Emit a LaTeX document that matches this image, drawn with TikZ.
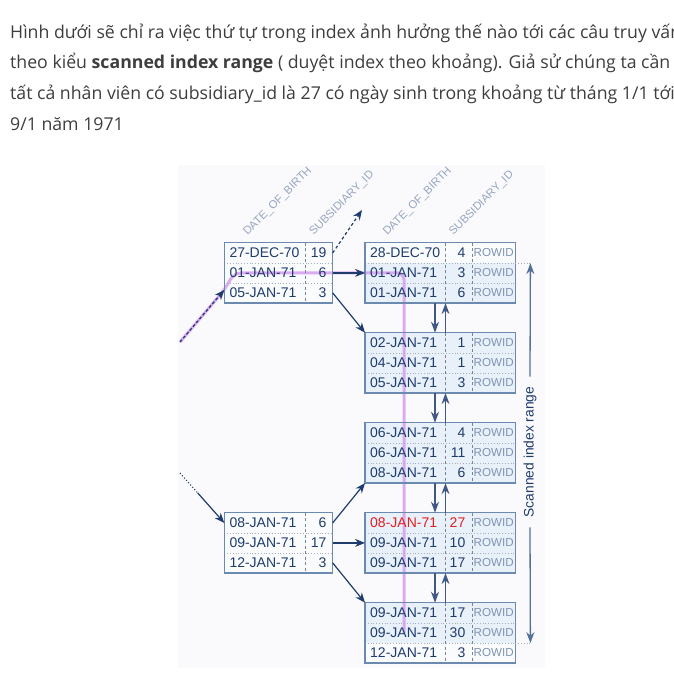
\documentclass[tikz,border=0pt]{standalone}
\usepackage{fontspec}
\usepackage{xcolor}
\usepackage{tikz}
\usetikzlibrary{arrows.meta,calc}
\setmainfont{Open Sans}
\newfontfamily\parafont{Open Sans}
\newfontfamily\diagfont{Liberation Sans}
\definecolor{txtgray}{RGB}{62,62,62}
\definecolor{navy}{RGB}{30,60,108}
\definecolor{boxblue}{RGB}{108,137,175}
\definecolor{cellblue}{RGB}{232,240,249}
\definecolor{cellwhite}{RGB}{250,251,253}
\definecolor{headgray}{RGB}{150,166,193}
\definecolor{rowidgray}{RGB}{128,148,178}
\definecolor{sepgray}{RGB}{168,176,190}
\definecolor{rangeblue}{RGB}{85,112,150}
\definecolor{scanviolet}{RGB}{214,158,240}
\definecolor{hitred}{RGB}{226,30,30}
\definecolor{diagbg}{RGB}{250,250,252}
\tikzstyle{para} = [inner sep=0pt, anchor=base west, text=txtgray,
    font=\parafont\fontsize{17.7}{21}\selectfont]
\tikzstyle{leafrow} = [rectangle, minimum width=150pt, minimum height=20pt,
    inner sep=0pt, anchor=north west, fill=cellblue]
\tikzstyle{branchrow} = [rectangle, minimum width=108pt, minimum height=20pt,
    inner sep=0pt, anchor=north west, fill=cellwhite]
\tikzstyle{keytext} = [inner sep=0pt, text=navy, font=\diagfont\fontsize{14}{16}\selectfont]
\tikzstyle{rowid} = [inner sep=0pt, anchor=west, text=rowidgray,
    font=\diagfont\fontsize{11.6}{13}\selectfont]
\tikzstyle{colhead} = [inner sep=0pt, anchor=south west, rotate=45, text=headgray,
    font=\diagfont\fontsize{11.3}{13}\selectfont]
\tikzstyle{boxline} = [draw=boxblue, line width=1.5pt]
\tikzstyle{rowsep} = [draw=sepgray, dotted, line width=0.8pt]
\tikzstyle{colsep} = [draw=sepgray!75!black, dash pattern=on 3pt off 2.5pt, line width=0.9pt]
\tikzstyle{link} = [draw=navy, line width=1.2pt, -{Stealth[length=10pt,width=8pt]}]
\tikzstyle{chain} = [draw=navy!85!white, line width=1.4pt, -{Stealth[length=11pt,width=8pt]}]
\tikzstyle{rangearrow} = [draw=rangeblue, line width=1.3pt, -{Stealth[length=11pt,width=8pt]}]
\tikzstyle{scanpath} = [draw=scanviolet, line width=3pt, opacity=0.85, rounded corners=7pt]

\begin{document}
\begin{tikzpicture}[x=1pt,y=-1pt]
  \useasboundingbox (0,0) rectangle (674,673);
  \clip (0,0) rectangle (674,673);
  \fill[white] (0,0) rectangle (674,673);

  \node[para] (p1) at (10,38) {Hình dưới sẽ chỉ ra việc thứ tự trong index ảnh hưởng thế nào tới các câu truy vấn};
  \node[para] (p2) at (10,68.5) {theo kiểu \textbf{scanned index range} ( duyệt index theo khoảng). Giả sử chúng ta cần lấy};
  \node[para] (p3) at (10,99) {tất cả nhân viên có subsidiary\_id là 27 có ngày sinh trong khoảng từ tháng 1/1 tới};
  \node[para] (p4) at (10,130) {9/1 năm 1971};

  \fill[diagbg] (178,165) rectangle (545,668);

  % rows of the leaf nodes and of the branch nodes
  \foreach \n/\y in {R1/242.7,R2/332.7,R3/422.7,R4/512.7,R5/602.7}{
    \node[leafrow] (\n a) at (365,\y) {};
    \node[leafrow] (\n b) at (365,\y+20) {};
    \node[leafrow] (\n c) at (365,\y+40) {};
  }
  \foreach \n/\y in {L1/242.7,L2/512.7}{
    \node[branchrow] (\n a) at (224.3,\y) {};
    \node[branchrow] (\n b) at (224.3,\y+20) {};
    \node[branchrow] (\n c) at (224.3,\y+40) {};
  }
  \fill[cellwhite] (R1a.north west) rectangle (R1a.south east);
  \fill[cellwhite] (R5c.north west) rectangle (R5c.south east);

  \coordinate (in1) at (180,342);
  \coordinate (in2) at (180,473);
  \coordinate (out1) at (362,210);

  % the scanned path
  \draw[scanpath] (in1) -- ([yshift=3pt]L1c.west) -- ($(L1b.west)+(10,0)$)
    -- ($(R1b.west)+(39,0)$) -- ($(R5b.west)+(39,0)$);

  \foreach \n in {R1,R2,R3,R4,R5}{
    \draw[rowsep] (\n a.south west) -- (\n a.south east);
    \draw[rowsep] (\n b.south west) -- (\n b.south east);
    \draw[colsep] ($(\n a.north west)+(80.7,0)$) -- ($(\n c.south west)+(80.7,0)$);
    \draw[colsep] ($(\n a.north west)+(107.3,0)$) -- ($(\n c.south west)+(107.3,0)$);
    \draw[boxline] (\n a.north west) rectangle (\n c.south east);
  }
  \foreach \n in {L1,L2}{
    \draw[rowsep] (\n a.south west) -- (\n a.south east);
    \draw[rowsep] (\n b.south west) -- (\n b.south east);
    \draw[colsep] ($(\n a.north west)+(80.7,0)$) -- ($(\n c.south west)+(80.7,0)$);
    \draw[boxline] (\n a.north west) rectangle (\n c.south east);
  }

  \def\lrow#1#2#3{
    \node[keytext,anchor=west] (#1d) at ($(#1.west)+(5,0)$) {#2};
    \node[keytext,anchor=east] (#1n) at ($(#1.west)+(100.5,0)$) {#3};
    \node[rowid] (#1r) at ($(#1.west)+(108.5,0)$) {ROWID};
  }
  \def\brow#1#2#3{
    \node[keytext,anchor=west] (#1d) at ($(#1.west)+(5,0)$) {#2};
    \node[keytext,anchor=east] (#1n) at ($(#1.east)+(-6,0)$) {#3};
  }

  \brow{L1a}{27-DEC-70}{19}
  \brow{L1b}{01-JAN-71}{6}
  \brow{L1c}{05-JAN-71}{3}
  \brow{L2a}{08-JAN-71}{6}
  \brow{L2b}{09-JAN-71}{17}
  \brow{L2c}{12-JAN-71}{3}

  \lrow{R1a}{28-DEC-70}{4}
  \lrow{R1b}{01-JAN-71}{3}
  \lrow{R1c}{01-JAN-71}{6}
  \lrow{R2a}{02-JAN-71}{1}
  \lrow{R2b}{04-JAN-71}{1}
  \lrow{R2c}{05-JAN-71}{3}
  \lrow{R3a}{06-JAN-71}{4}
  \lrow{R3b}{06-JAN-71}{11}
  \lrow{R3c}{08-JAN-71}{6}
  \node[keytext,anchor=west,text=hitred] (R4ad) at ($(R4a.west)+(5,0)$) {08-JAN-71};
  \node[keytext,anchor=east,text=hitred] (R4an) at ($(R4a.west)+(100.5,0)$) {27};
  \node[rowid] (R4ar) at ($(R4a.west)+(108.5,0)$) {ROWID};
  \lrow{R4b}{09-JAN-71}{10}
  \lrow{R4c}{09-JAN-71}{17}
  \lrow{R5a}{09-JAN-71}{17}
  \lrow{R5b}{09-JAN-71}{30}
  \lrow{R5c}{12-JAN-71}{3}

  % column headers
  \node[colhead] (h1) at ($(L1a.north west)+(25,-5)$) {DATE\_OF\_BIRTH};
  \node[colhead] (h2) at ($(L1a.north west)+(91,-5)$) {SUBSIDIARY\_ID};
  \node[colhead] (h3) at ($(R1a.north west)+(24,-5)$) {DATE\_OF\_BIRTH};
  \node[colhead] (h4) at ($(R1a.north west)+(90,-5)$) {SUBSIDIARY\_ID};

  % branch links
  \draw[link, dash pattern=on 3pt off 2pt] (in1) -- ([yshift=3pt]L1c.west);
  \draw[link, dash pattern=on 3pt off 2.5pt] (L1a.east) -- (out1);
  \draw[link] (L1b.east) -- (R1b.west);
  \draw[link] (L1c.east) -- (R2a.north west);
  \draw[draw=navy, line width=1.1pt, dotted] (in2) -- ($(in2)!0.4!(L2a.west)$);
  \draw[link] ($(in2)!0.4!(L2a.west)$) -- (L2a.west);
  \draw[link] (L2a.east) -- (R3c.south west);
  \draw[link] (L2b.east) -- (R4b.west);
  \draw[link] (L2c.east) -- (R5a.north west);

  % leaf chain
  \foreach \u/\l in {R1/R2,R2/R3,R3/R4,R4/R5}{
    \draw[chain] ($(\u c.south west)+(70,0)$) -- ($(\l a.north west)+(70,0)$);
    \draw[chain] ($(\l a.north west)+(80.5,0)$) -- ($(\u c.south west)+(80.5,0)$);
  }

  % scanned index range
  \coordinate (rtop) at ($(R1a.south east)+(15,0)$);
  \coordinate (rbot) at ($(R5b.south east)+(15,0)$);
  \node[inner xsep=10pt, inner ysep=0pt, rotate=90, text=navy,
    font=\diagfont\fontsize{13.8}{16}\selectfont] (rng) at (530,452) {Scanned index range};
  \draw[rowsep] (R1a.south east) -- (rtop);
  \draw[rowsep] (R5b.south east) -- (rbot);
  \draw[rangearrow] (rng.east) -- (rtop);
  \draw[rangearrow] (rng.west) -- (rbot);
\end{tikzpicture}
\end{document}
